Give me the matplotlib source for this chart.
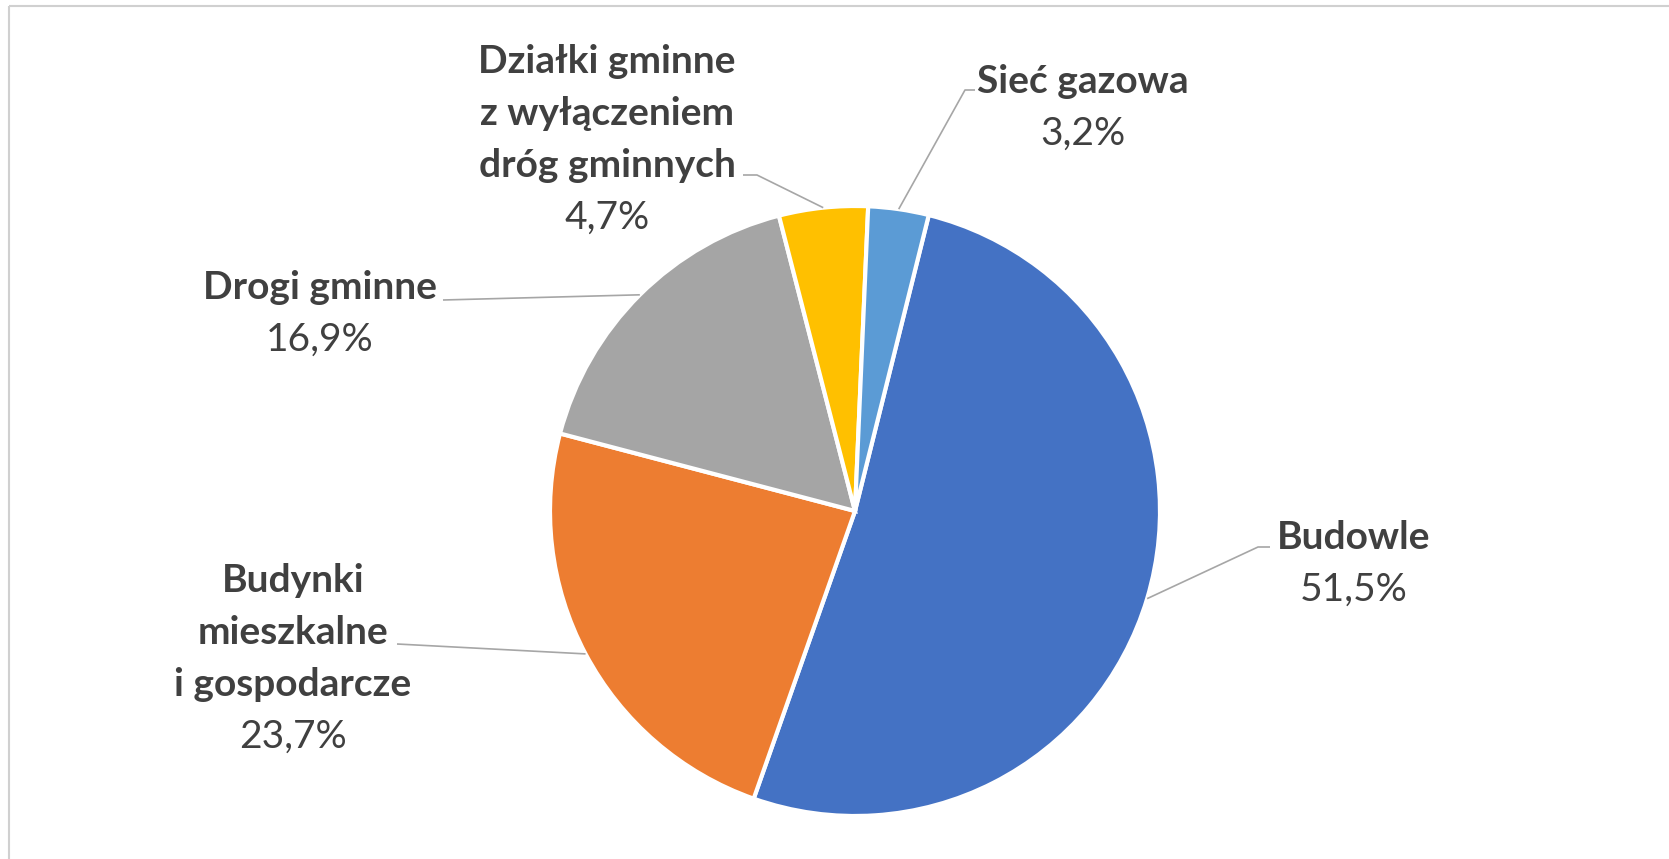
import matplotlib
matplotlib.use("Agg")
import matplotlib.pyplot as plt
import numpy as np

W, H = 1669, 859  # output size in pixels (dpi 100)

categories = ["Budowle", "Budynki\nmieszkalne\ni gospodarcze", "Drogi gminne",
              "Działki gminne\nz wyłączeniem\ndróg gminnych", "Sieć gazowa"]
shares = [51.5, 23.7, 16.9, 4.7, 3.2]
colors = ["#4472C4", "#ED7D31", "#A5A5A5", "#FFC000", "#5B9BD5"]

# layout, in pixels from top-left of the image
PIE_CENTER = (855, 511)
PIE_RADIUS = 305
START_ANGLE = 76  # first slice begins ~14 deg right of 12 o'clock
LINE_STEP = 52
label_x = [1354, 293, 320, 607, 1083]
label_top_baseline = [549, 592, 299, 73, 93]
leader_text_end = [(1258, 547), (397, 644), (443, 300), (757, 175), (965, 90)]
leader_stub = [(1270, 547), None, None, (743, 175), (975, 90)]

TEXT_COLOR = "#404040"
LEADER_COLOR = "#A6A6A6"
FONT = "Lato"


def fy(y):
    return H - y


fig = plt.figure(figsize=(W / 100, H / 100), dpi=100)
ax = fig.add_axes([0, 0, 1, 1])

wedges, _ = ax.pie(shares, colors=colors, startangle=START_ANGLE, counterclock=False,
                   center=(PIE_CENTER[0], fy(PIE_CENTER[1])), radius=PIE_RADIUS,
                   wedgeprops=dict(edgecolor="white", linewidth=3))
ax.set_xlim(0, W)
ax.set_ylim(0, H)
ax.set_aspect("auto")
ax.axis("off")

for i, w in enumerate(wedges):
    # leader touches the rim at the middle of the slice
    ang = np.deg2rad((w.theta1 + w.theta2) / 2)
    px = PIE_CENTER[0] + PIE_RADIUS * np.cos(ang)
    py = fy(PIE_CENTER[1]) + PIE_RADIUS * np.sin(ang)
    xs = [px, leader_text_end[i][0]]
    ys = [py, fy(leader_text_end[i][1])]
    if leader_stub[i] is not None:
        xs.append(leader_stub[i][0])
        ys.append(fy(leader_stub[i][1]))
    ax.plot(xs, ys, color=LEADER_COLOR, lw=1.2, solid_capstyle="butt", zorder=1)

    lines = categories[i].split("\n")
    y0 = label_top_baseline[i]
    for k, line in enumerate(lines):
        ax.text(label_x[i], fy(y0 + k * LINE_STEP), line, ha="center", va="baseline",
                fontsize=28, fontweight="bold", color=TEXT_COLOR, family=FONT)
    pct = f"{shares[i]:.1f}%".replace(".", ",")
    ax.text(label_x[i], fy(y0 + len(lines) * LINE_STEP), pct, ha="center", va="baseline",
            fontsize=28, color=TEXT_COLOR, family=FONT)

# chart frame (only the top and left edges are inside the crop)
ax.plot([9, W], [fy(6), fy(6)], color="#D0D0D0", lw=1.5, solid_capstyle="butt")
ax.plot([9, 9], [fy(6), 0], color="#D0D0D0", lw=1.5, solid_capstyle="butt")

fig.savefig("out.png", dpi=100, facecolor="white")
